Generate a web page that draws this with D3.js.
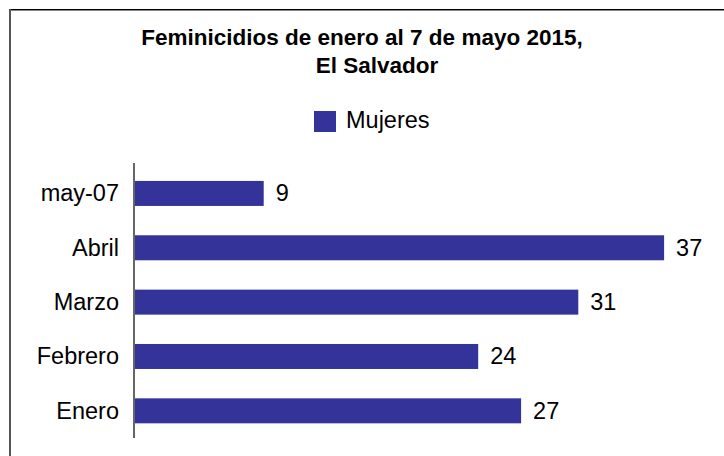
<!DOCTYPE html>
<html>
<head>
    <title>Feminicidios 2015</title>
    <script src="https://d3js.org/d3.v7.min.js"></script>
    <style>
        body { margin: 0; background: #fff; }
        text { font-family: "Liberation Sans", Arial, sans-serif; fill: #000; }
        .title { font-size: 22.5px; font-weight: bold; }
        .lbl { font-size: 23.5px; }
    </style>
</head>
<body>
    <svg width="724" height="456"></svg>
    <script>
        var categories = ["may-07", "Abril", "Marzo", "Febrero", "Enero"];
        var mujeres = [9, 37, 31, 24, 27];
        var seriesName = "Mujeres";
        var titleLines = ["Feminicidios de enero al 7 de mayo 2015,", "El Salvador"];

        var svg = d3.select("svg");

        // chart frame (only top and left edges fall inside the picture)
        svg.append("line").attr("x1", 9).attr("x2", 724).attr("y1", 9.5).attr("y2", 9.5)
            .attr("stroke", "#000").attr("stroke-width", 1);
        svg.append("line").attr("x1", 9).attr("x2", 724).attr("y1", 10.5).attr("y2", 10.5)
            .attr("stroke", "#888").attr("stroke-width", 1);
        svg.append("line").attr("x1", 10).attr("x2", 10).attr("y1", 9).attr("y2", 456)
            .attr("stroke", "#555").attr("stroke-width", 2);

        // title
        svg.append("text").attr("class", "title")
            .attr("x", 362).attr("y", 45).attr("text-anchor", "middle").text(titleLines[0]);
        svg.append("text").attr("class", "title")
            .attr("x", 377).attr("y", 73).attr("text-anchor", "middle").text(titleLines[1]);

        // legend
        svg.append("rect").attr("x", 314).attr("y", 111).attr("width", 22).attr("height", 21)
            .attr("fill", "#333399");
        svg.append("text").attr("class", "lbl").attr("x", 346).attr("y", 128).text(seriesName);

        var x = d3.scaleLinear().domain([0, 40]).range([135, 707]);
        var y = d3.scaleBand().domain(categories).range([163, 438])
            .paddingInner(0.54).paddingOuter(0.3).align(0.55);

        svg.selectAll(".bar")
            .data(mujeres)
            .enter().append("rect")
            .attr("class", "bar")
            .attr("x", x(0))
            .attr("y", function(d, i) { return y(categories[i]); })
            .attr("width", function(d) { return x(d) - x(0); })
            .attr("height", y.bandwidth())
            .attr("fill", "#333399");

        svg.selectAll(".val")
            .data(mujeres)
            .enter().append("text")
            .attr("class", "lbl val")
            .attr("x", function(d) { return x(d) + 12; })
            .attr("y", function(d, i) { return y(categories[i]) + y.bandwidth() / 2 + 8; })
            .text(function(d) { return d; });

        svg.selectAll(".cat")
            .data(categories)
            .enter().append("text")
            .attr("class", "lbl cat")
            .attr("x", 119)
            .attr("y", function(d) { return y(d) + y.bandwidth() / 2 + 8; })
            .attr("text-anchor", "end")
            .text(function(d) { return d; });

        // category axis line
        svg.append("line").attr("x1", 134).attr("x2", 134).attr("y1", 163).attr("y2", 438)
            .attr("stroke", "#666").attr("stroke-width", 2);
    </script>
</body>
</html>
